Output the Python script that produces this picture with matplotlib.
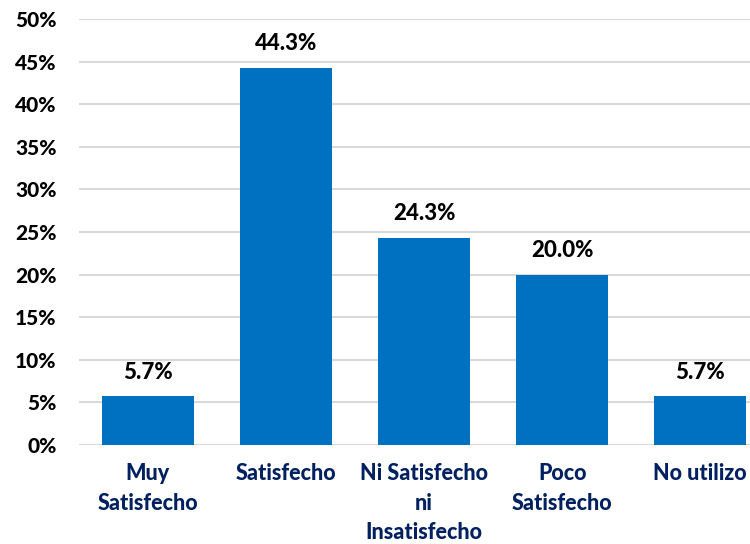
"""
Nivel de satisfacción - gráfico de barras
"""

import numpy as np
import matplotlib.pyplot as plt
from matplotlib.ticker import PercentFormatter

categorias = ['Muy\nSatisfecho', 'Satisfecho', 'Ni Satisfecho\nni\nInsatisfecho',
              'Poco\nSatisfecho', 'No utilizo']
valores = [5.7, 44.3, 24.3, 20.0, 5.7]
etiquetas = ['5.7%', '44.3%', '24.3%', '20.0%', '5.7%']


def main():
    plt.rcParams['font.family'] = ['Lato', 'DejaVu Sans']
    fig = plt.figure(figsize=(7.5, 5.44), dpi=100)
    ax = fig.add_axes([0.105, 0.182, 0.895, 0.783])

    x = np.arange(len(categorias))
    bars = ax.bar(x, valores, width=0.667, color='#0070C0', zorder=3)

    for b, txt in zip(bars, etiquetas):
        ax.annotate(txt, (b.get_x() + b.get_width() / 2, b.get_height()),
                    xytext=(0, 10), textcoords='offset points',
                    ha='center', va='bottom', fontsize=16, fontweight='black',
                    color='black')

    ax.set_ylim(0, 50)
    ax.set_yticks(np.arange(0, 51, 5))
    ax.yaxis.set_major_formatter(PercentFormatter(decimals=0))
    ax.set_xlim(-0.5, 4.36)
    ax.set_xticks(x)
    ax.set_xticklabels(categorias, fontsize=15.5, fontweight='black', color='#002060',
                       linespacing=1.5, va='top')

    ax.grid(axis='y', color='#D9D9D9', linewidth=1.5, zorder=0)
    for s in ax.spines.values():
        s.set_visible(False)
    ax.tick_params(axis='both', length=0)
    ax.tick_params(axis='x', pad=13)
    ax.tick_params(axis='y', pad=16)
    for lbl in ax.get_yticklabels():
        lbl.set_fontsize(15)
        lbl.set_fontweight('black')

    fig.savefig('out.png', dpi=100)
    plt.close(fig)


if __name__ == '__main__':
    main()
